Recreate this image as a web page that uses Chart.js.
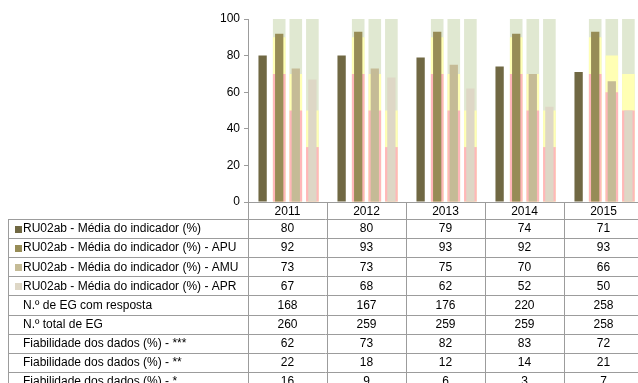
<!DOCTYPE html>
<html>
<head>
<meta charset="utf-8">
<script src="https://cdn.jsdelivr.net/npm/chart.js@4/dist/chart.umd.min.js"></script>
<style>
html,body{margin:0;padding:0;background:#fff;overflow:hidden;}
#wrap{position:relative;width:644px;height:383px;}
</style>
</head>
<body>
<div id="wrap"><canvas id="c" width="644" height="383"></canvas></div>
<script>
// ---- data ----
const years = ['2011', '2012', '2013', '2014', '2015'];
const mediaIndicador = [80, 80, 79, 74, 71];
const mediaAPU = [92, 93, 93, 92, 93];
const mediaAMU = [73, 73, 75, 70, 66];
const mediaAPR = [67, 68, 62, 52, 50];
const egResposta = [168, 167, 176, 220, 258];
const egTotal = [260, 259, 259, 259, 258];
const fiab3 = [62, 73, 82, 83, 72];
const fiab2 = [22, 18, 12, 14, 21];
const fiab1 = [16, 9, 6, 3, 7];
// reference bands: top of green zone, top of yellow zone, top of red zone
const greenTop = [100, 100, 100, 100, 100];
const noBand = [0, 0, 0, 0, 0];
const apuRedMax = [70, 70, 70, 70, 70];
const apuYellowMax = [90, 90, 90, 90, 90];
const amuRedMax = [50, 50, 50, 50, 60];
const amuYellowMax = [70, 70, 70, 70, 80];
const aprRedMax = [30, 30, 30, 30, 50];
const aprYellowMax = [50, 50, 50, 50, 70];
const yTicks = [0, 20, 40, 60, 80, 100];

const seriesNames = [
  'RU02ab - Média do indicador (%)',
  'RU02ab - Média do indicador (%) - APU',
  'RU02ab - Média do indicador (%) - AMU',
  'RU02ab - Média do indicador (%) - APR'
];
const seriesColors = ['#706843', '#978c56', '#c5bb96', '#ded7c6'];
const bandColors = {red: '#ffb7b9', yellow: '#ffffb4', green: '#e0e8d1'};

const tableRows = [
  {label: seriesNames[0], values: mediaIndicador, key: seriesColors[0]},
  {label: seriesNames[1], values: mediaAPU, key: seriesColors[1]},
  {label: seriesNames[2], values: mediaAMU, key: seriesColors[2]},
  {label: seriesNames[3], values: mediaAPR, key: seriesColors[3]},
  {label: 'N.º de EG com resposta', values: egResposta},
  {label: 'N.º total de EG', values: egTotal},
  {label: 'Fiabilidade dos dados (%) - ***', values: fiab3},
  {label: 'Fiabilidade dos dados (%) - **', values: fiab2},
  {label: 'Fiabilidade dos dados (%) - *', values: fiab1}
];

const FONT = '"Liberation Sans", Arial, sans-serif';
const CAT_PCT = 0.84;

// Every layer uses the same 4 slots (s0..s3) on one index axis; values are
// not stacked, so the layers overlay: green band, yellow band, red band, bars.
function layer(name, arrays, colors, barPct, order, labels) {
  return arrays.map((arr, slot) => ({
    label: labels ? labels[slot] : name + slot,
    data: arr,
    backgroundColor: colors[slot],
    stack: 's' + slot,
    order: order,
    categoryPercentage: CAT_PCT,
    barPercentage: barPct,
    borderWidth: 0
  }));
}
const g = bandColors.green, yl = bandColors.yellow, rd = bandColors.red;
const datasets = [
  ...layer('bar', [mediaIndicador, mediaAPU, mediaAMU, mediaAPR], seriesColors, 0.5, 0, seriesNames),
  ...layer('red', [noBand, apuRedMax, amuRedMax, aprRedMax], [rd, rd, rd, rd], 0.76, 1),
  ...layer('yellow', [noBand, apuYellowMax, amuYellowMax, aprYellowMax], [yl, yl, yl, yl], 0.76, 2),
  ...layer('green', [noBand, greenTop, greenTop, greenTop], [g, g, g, g], 0.76, 3)
];

const LINE = '#9c9c9c';
const ROW_H = 19.1;
const HEADER_H = 17;
const TABLE_LEFT = 8;

const tablePlugin = {
  id: 'dataTable',
  afterDraw(chart) {
    const ctx = chart.ctx;
    const area = chart.chartArea;
    const xs = chart.scales.x;
    const n = years.length;
    const colW = (area.right - area.left) / n;
    const top = area.bottom;
    const headerBottom = top + HEADER_H;
    ctx.save();
    ctx.strokeStyle = LINE;
    ctx.lineWidth = 1;
    ctx.beginPath();
    ctx.moveTo(area.left - 4, Math.round(top) + 0.5);
    ctx.lineTo(area.right, Math.round(top) + 0.5);
    ctx.stroke();
    const bottom = headerBottom + ROW_H * tableRows.length;
    for (let i = 0; i <= n; i++) {
      const x = Math.round(area.left + colW * i) + 0.5;
      ctx.beginPath();
      ctx.moveTo(x, top);
      ctx.lineTo(x, bottom);
      ctx.stroke();
    }
    ctx.beginPath();
    ctx.moveTo(TABLE_LEFT + 0.5, Math.round(headerBottom) + 0.5);
    ctx.lineTo(TABLE_LEFT + 0.5, bottom);
    ctx.stroke();
    for (let r = 0; r <= tableRows.length; r++) {
      const y = Math.round(headerBottom + ROW_H * r) + 0.5;
      ctx.beginPath();
      ctx.moveTo(TABLE_LEFT, y);
      ctx.lineTo(area.right, y);
      ctx.stroke();
    }
    ctx.fillStyle = '#000';
    ctx.font = '12px ' + FONT;
    ctx.textBaseline = 'middle';
    ctx.textAlign = 'center';
    years.forEach((yr, i) => {
      ctx.fillText(yr, xs.getPixelForValue(i), top + HEADER_H / 2 + 1);
    });
    tableRows.forEach((row, r) => {
      const cy = headerBottom + ROW_H * r + ROW_H / 2 + 0.5;
      if (row.key) {
        ctx.fillStyle = row.key;
        ctx.fillRect(TABLE_LEFT + 7, Math.round(cy - 3.5), 7, 7);
      }
      ctx.fillStyle = '#000';
      ctx.textAlign = 'left';
      ctx.fillText(row.label, TABLE_LEFT + 15, cy);
      ctx.textAlign = 'center';
      row.values.forEach((v, i) => {
        ctx.fillText(String(v), xs.getPixelForValue(i), cy);
      });
    });
    ctx.restore();
  }
};

new Chart(document.getElementById('c'), {
  type: 'bar',
  data: {labels: years, datasets: datasets},
  options: {
    responsive: false,
    animation: false,
    devicePixelRatio: 1,
    layout: {padding: {top: 19, bottom: 181, left: 0, right: 1}},
    plugins: {legend: {display: false}, tooltip: {enabled: false}},
    scales: {
      x: {type: 'category', display: false, offset: true, stacked: true},
      y: {
        min: 0, max: 100, stacked: false,
        afterFit(scale) { scale.width = 248; },
        afterBuildTicks(scale) { scale.ticks = yTicks.map(v => ({value: v})); },
        ticks: {color: '#000', font: {family: FONT, size: 12}, padding: 4},
        grid: {drawOnChartArea: false, drawTicks: true, tickLength: 4, color: LINE},
        border: {color: LINE}
      }
    }
  },
  plugins: [tablePlugin]
});
</script>
</body>
</html>
